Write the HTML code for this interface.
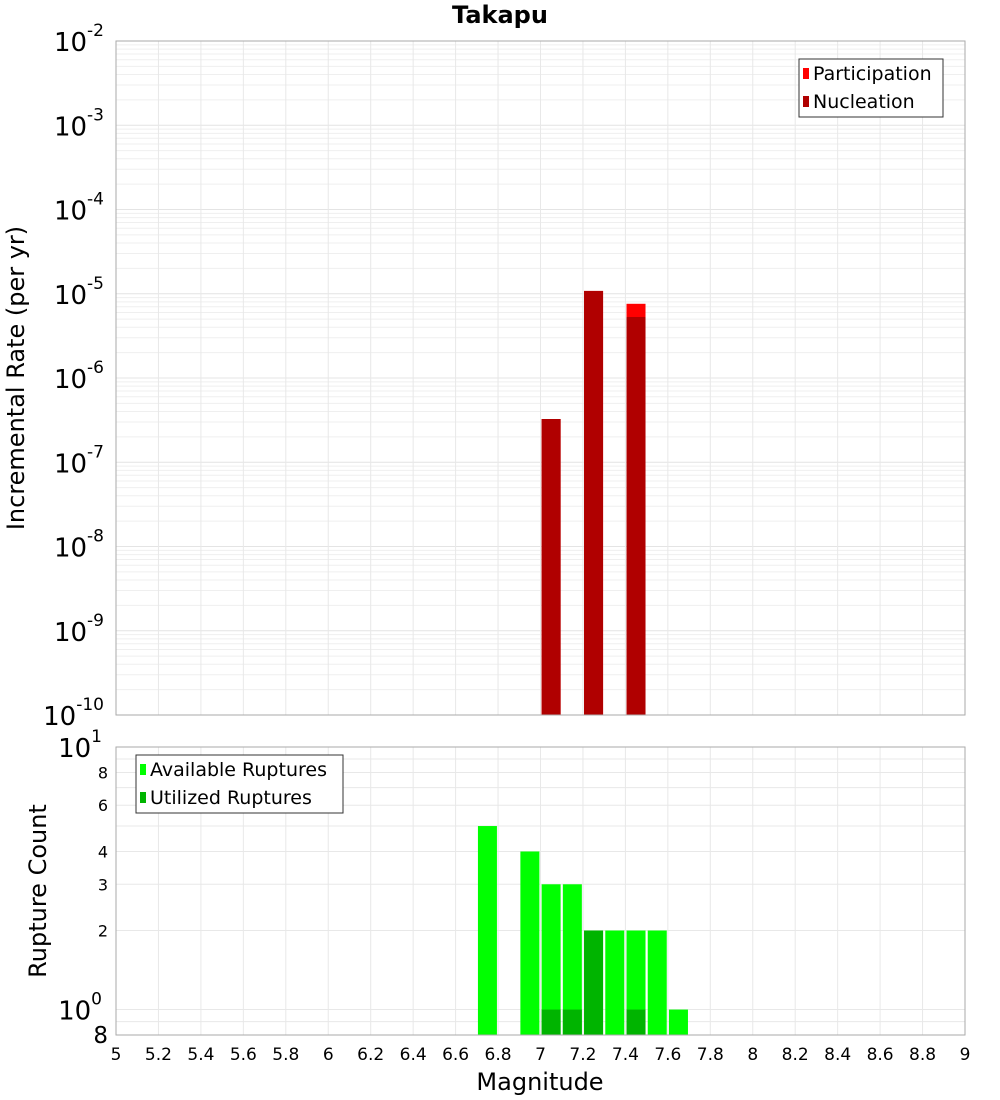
<!DOCTYPE html>
<html><head><meta charset="utf-8"><style>body{margin:0;background:#fff}svg{display:block;font-family:"DejaVu Sans","Liberation Sans",sans-serif}</style></head>
<body>
<svg id="c" width="1000" height="1100" xmlns="http://www.w3.org/2000/svg"></svg>
<script>
const binCenters=[7.05,7.25,7.45];
const participation=[3.26e-7,1.08e-5,7.6e-6];
const nucleation=[3.26e-7,1.08e-5,5.3e-6];
const cntCenters=[6.75,6.95,7.05,7.15,7.25,7.35,7.45,7.55,7.65];
const available=[5,4,3,3,2,2,2,2,1];
const utilCenters=[7.05,7.15,7.25,7.45];
const utilized=[1,1,2,1];
const xTicks=[5,5.2,5.4,5.6,5.8,6,6.2,6.4,6.6,6.8,7,7.2,7.4,7.6,7.8,8,8.2,8.4,8.6,8.8,9];
const topDecades=[-2,-3,-4,-5,-6,-7,-8,-9,-10];
const botMinorTicks=[2,3,4,6,8];

const svg=document.getElementById('c');const NS='http://www.w3.org/2000/svg';
function el(t,a,p){const e=document.createElementNS(NS,t);for(const k in a)e.setAttribute(k,a[k]);(p||svg).appendChild(e);return e;}
const L=116,R=965;
const X=v=>L+(v-5)*(R-L)/4;
const T1=41,B1=715;const Y1=v=>T1+(-2-Math.log10(v))*(B1-T1)/8;
const T2=747,B2=1035;const lmin=Math.log10(0.8);const Y2=v=>T2+(1-Math.log10(v))*(B2-T2)/(1-lmin);

const title=el('text',{x:500,y:23,'text-anchor':'middle','font-size':24,'font-weight':'bold'});title.textContent='Takapu';



const g1=el('g',{});


for(let d=-10;d<-2;d++)for(let m=1;m<10;m++){const y=Y1(m*Math.pow(10,d));el('line',{x1:L,x2:R,y1:y,y2:y,stroke:m==1?'#e4e4e4':'#efefef','stroke-width':1},g1);}
xTicks.forEach(v=>{el('line',{x1:X(v),x2:X(v),y1:T1,y2:B1,stroke:'#e8e8e8'},g1);el('line',{x1:X(v),x2:X(v),y1:T2,y2:B2,stroke:'#e8e8e8'},g1);});
for(let m=1;m<=10;m++){const y=Y2(m);el('line',{x1:L,x2:R,y1:y,y2:y,stroke:'#e8e8e8'},g1);}
el('line',{x1:L,x2:R,y1:Y2(0.9),y2:Y2(0.9),stroke:'#e8e8e8'},g1);

const bw=19;
binCenters.forEach((c,i)=>{
 const p=el('rect',{x:X(c)-bw/2,y:Y1(participation[i]),width:bw,height:B1-Y1(participation[i]),fill:'#ff0000'});
 
 
 const n=el('rect',{x:X(c)-bw/2,y:Y1(nucleation[i]),width:bw,height:B1-Y1(nucleation[i]),fill:'#b00000'});
 
 
});
cntCenters.forEach((c,i)=>{
 const r=el('rect',{x:X(c)-bw/2,y:Y2(available[i]),width:bw,height:B2-Y2(available[i]),fill:'#00ff00'});
 
 
});
utilCenters.forEach((c,i)=>{
 const r=el('rect',{x:X(c)-bw/2,y:Y2(utilized[i]),width:bw,height:B2-Y2(utilized[i]),fill:'#00b400'});
 
 
});
el('rect',{x:L,y:T1,width:R-L,height:B1-T1,fill:'none',stroke:'#aaa'});
el('rect',{x:L,y:T2,width:R-L,height:B2-T2,fill:'none',stroke:'#aaa'});

topDecades.forEach(d=>{const y=Y1(Math.pow(10,d));const t=el('text',{x:104,y:y+10,'text-anchor':'end','font-size':26});
 t.innerHTML='10<tspan dy="-15" font-size="17">'+d+'</tspan>';
 
 });
[[10,'1'],[1,'0']].forEach(a=>{const t=el('text',{x:102,y:Y2(a[0])+10,'text-anchor':'end','font-size':26});t.innerHTML='10<tspan dy="-15" font-size="17">'+a[1]+'</tspan>';
 
 });
botMinorTicks.forEach(v=>{const t=el('text',{x:108,y:Y2(v)+6,'text-anchor':'end','font-size':16});t.textContent=v;
 
 });
{const t=el('text',{x:108,y:1043,'text-anchor':'end','font-size':23});t.textContent='8';
 
 }
xTicks.forEach(v=>{const t=el('text',{x:X(v),y:1060,'text-anchor':'middle','font-size':17});t.textContent=String(v);
 
 });
{const t=el('text',{x:540,y:1090,'text-anchor':'middle','font-size':24});t.textContent='Magnitude';
 
 }
{const t=el('text',{x:0,y:0,'text-anchor':'middle','font-size':24,transform:'translate(24,378) rotate(-90)'});t.textContent='Incremental Rate (per yr)';
 
 }
{const t=el('text',{x:0,y:0,'text-anchor':'middle','font-size':24,transform:'translate(46,891) rotate(-90)'});t.textContent='Rupture Count';
 
 }
function legend(x,y,w,items,name){const g=el('g',{});
 el('rect',{x:x,y:y,width:w,height:58,fill:'#fff',stroke:'#333'},g);
 items.forEach((it,i)=>{el('rect',{x:x+4,y:y+9+i*28,width:6,height:11,fill:it[1]},g);const t=el('text',{x:x+14,y:y+21+i*28,'font-size':19},g);t.textContent=it[0];});}
legend(799,59,144,[['Participation','#ff0000'],['Nucleation','#b00000']],'top-legend');
legend(136,755,207,[['Available Ruptures','#00ff00'],['Utilized Ruptures','#00b400']],'bottom-legend');
</script>
</body></html>
